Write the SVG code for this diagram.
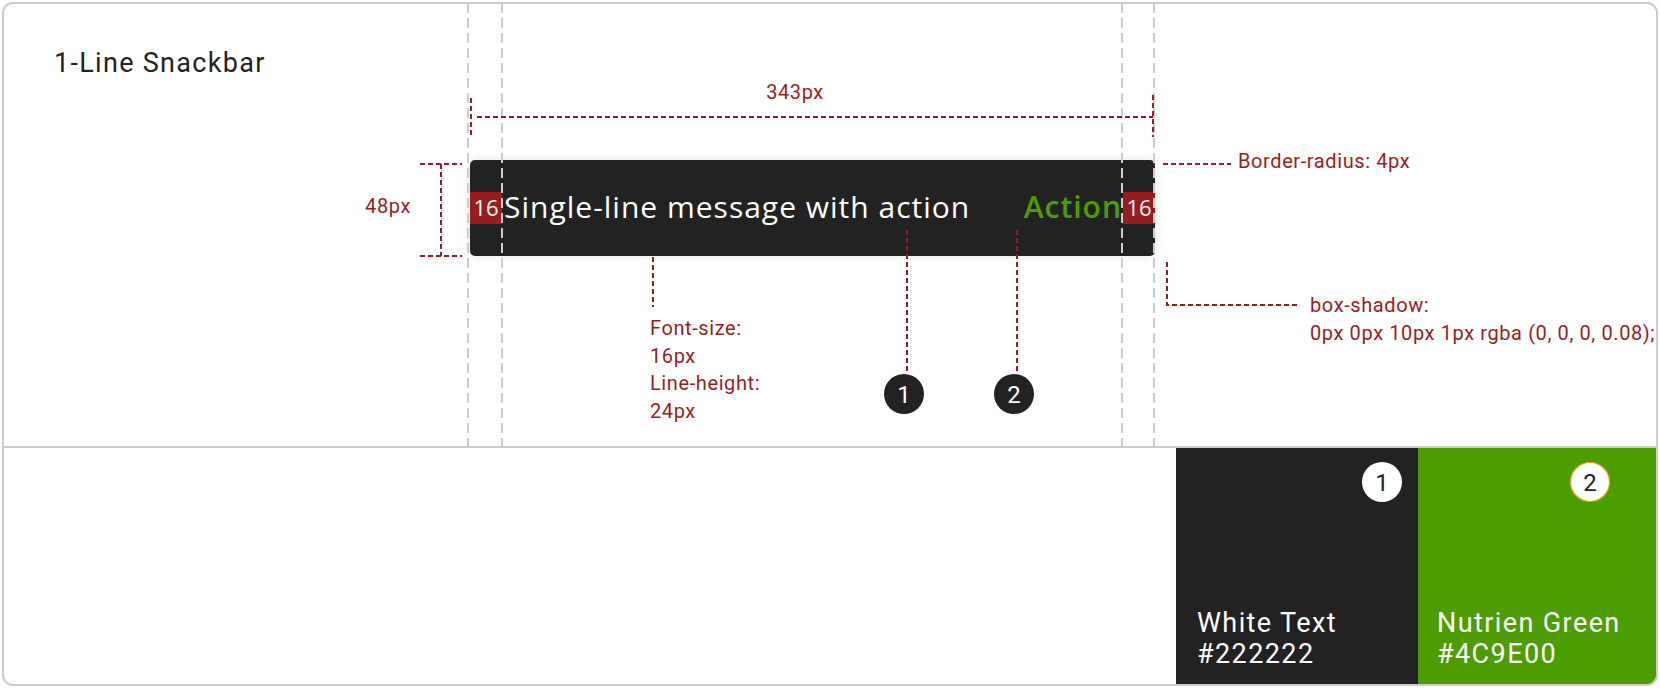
<svg xmlns="http://www.w3.org/2000/svg" width="1660" height="688" viewBox="0 0 1660 688">
<defs>
<style>
.guide{stroke:#cccccc;stroke-width:2;stroke-dasharray:10 5;fill:none}
.red{stroke:#9b1c1f;stroke-width:2;stroke-dasharray:5 3;fill:none}
.lbl{font-family:Roboto,"Liberation Sans",sans-serif;font-size:20px;fill:#9b1c1f;letter-spacing:0.6px}
.msg{font-family:"Open Sans","Noto Sans",sans-serif;font-size:30px;letter-spacing:1px}
.num{font-family:"Open Sans","Noto Sans",sans-serif;font-size:22px;fill:#ffffff;text-anchor:middle}
.badge{font-family:Roboto,"Liberation Sans",sans-serif;font-size:24px;text-anchor:middle}
.sw{font-family:Roboto,"Liberation Sans",sans-serif;font-size:27px;fill:#ffffff;letter-spacing:1.4px}
</style>
<filter id="sh" x="-5%" y="-30%" width="110%" height="160%">
<feGaussianBlur in="SourceAlpha" stdDeviation="5"/>
<feComponentTransfer><feFuncA type="linear" slope="0.12"/></feComponentTransfer>
<feMerge><feMergeNode/><feMergeNode in="SourceGraphic"/></feMerge>
</filter>
<clipPath id="frameClip"><rect x="3" y="3" width="1654" height="682" rx="10"/></clipPath>
</defs>
<rect x="0" y="0" width="1660" height="688" fill="#ffffff"/>
<g id="swatches" clip-path="url(#frameClip)">
<rect x="1176" y="448" width="242" height="240" fill="#222222"/>
<rect x="1418" y="448" width="242" height="240" fill="#4c9e00"/>
</g>
<rect id="frame" x="3" y="3" width="1654" height="682" rx="10" fill="none" stroke="#cccccc" stroke-width="2"/>
<line x1="3" y1="447" x2="1657" y2="447" stroke="#cccccc" stroke-width="2"/>
<text id="title" x="54" y="72" font-family="Roboto,'Liberation Sans',sans-serif" font-size="27" fill="#222222" letter-spacing="1.3">1-Line Snackbar</text>
<g id="snackbar">
<rect x="470" y="160" width="685" height="96" rx="5" fill="#222222" filter="url(#sh)"/>
<rect x="470" y="192" width="32" height="32" fill="#9b1c1f"/>
<rect x="1123" y="192" width="32" height="32" fill="#9b1c1f"/>
<text x="486" y="216" class="num">16</text>
<text x="1139" y="216" class="num">16</text>
<text x="504" y="218" class="msg" fill="#ffffff">Single-line message with action</text>
<text x="1122" y="218" class="msg" fill="#4c9e00" font-weight="600" text-anchor="end">Action</text>
</g>
<g id="guides">
<line x1="468" y1="3" x2="468" y2="446" class="guide"/>
<line x1="502" y1="3" x2="502" y2="446" class="guide"/>
<line x1="1122" y1="3" x2="1122" y2="446" class="guide"/>
<line x1="1154" y1="3" x2="1154" y2="446" class="guide"/>
</g>
<g id="connectors">
<line x1="471" y1="98" x2="471" y2="138" class="red"/>
<line x1="1153" y1="95" x2="1153" y2="137" class="red"/>
<line x1="477" y1="117" x2="1153" y2="117" class="red"/>
<line x1="420" y1="164" x2="462" y2="164" class="red"/>
<line x1="420" y1="256" x2="462" y2="256" class="red"/>
<line x1="441" y1="164" x2="441" y2="256" class="red"/>
<line x1="1163" y1="164" x2="1231" y2="164" class="red"/>
<polyline points="1167,262 1167,305 1298,305" class="red"/>
<line x1="653" y1="257" x2="653" y2="307" class="red"/>
<line x1="907" y1="230" x2="907" y2="374" class="red"/>
<line x1="1017" y1="230" x2="1017" y2="374" class="red"/>
</g>
<g id="labels">
<text x="795" y="99" class="lbl" text-anchor="middle">343px</text>
<text x="411" y="213" class="lbl" text-anchor="end">48px</text>
<text x="1238" y="168" class="lbl">Border-radius: 4px</text>
<text x="1310" y="312" class="lbl">box-shadow:</text>
<text x="1310" y="340" class="lbl">0px 0px 10px 1px rgba (0, 0, 0, 0.08);</text>
<text x="650" y="335" class="lbl">Font-size:</text>
<text x="650" y="363" class="lbl">16px</text>
<text x="650" y="390" class="lbl">Line-height:</text>
<text x="650" y="418" class="lbl">24px</text>
</g>
<g id="marker1">
<circle cx="904" cy="394" r="20" fill="#222222"/>
<text x="904" y="403" class="badge" fill="#ffffff">1</text>
</g>
<g id="marker2">
<circle cx="1014" cy="394" r="20" fill="#222222"/>
<text x="1014" y="403" class="badge" fill="#ffffff">2</text>
</g>
<g id="swatch1">
<circle cx="1382" cy="482" r="20" fill="#ffffff"/>
<text x="1382" y="491" class="badge" fill="#222222">1</text>
<text x="1197" y="632" class="sw">White Text</text>
<text x="1197" y="663" class="sw">#222222</text>
</g>
<g id="swatch2">
<circle cx="1590" cy="482" r="19.5" fill="#ffffff" stroke="#e8a317" stroke-width="1.2"/>
<text x="1590" y="491" class="badge" fill="#222222">2</text>
<text x="1437" y="632" class="sw">Nutrien Green</text>
<text x="1437" y="663" class="sw">#4C9E00</text>
</g>
</svg>
